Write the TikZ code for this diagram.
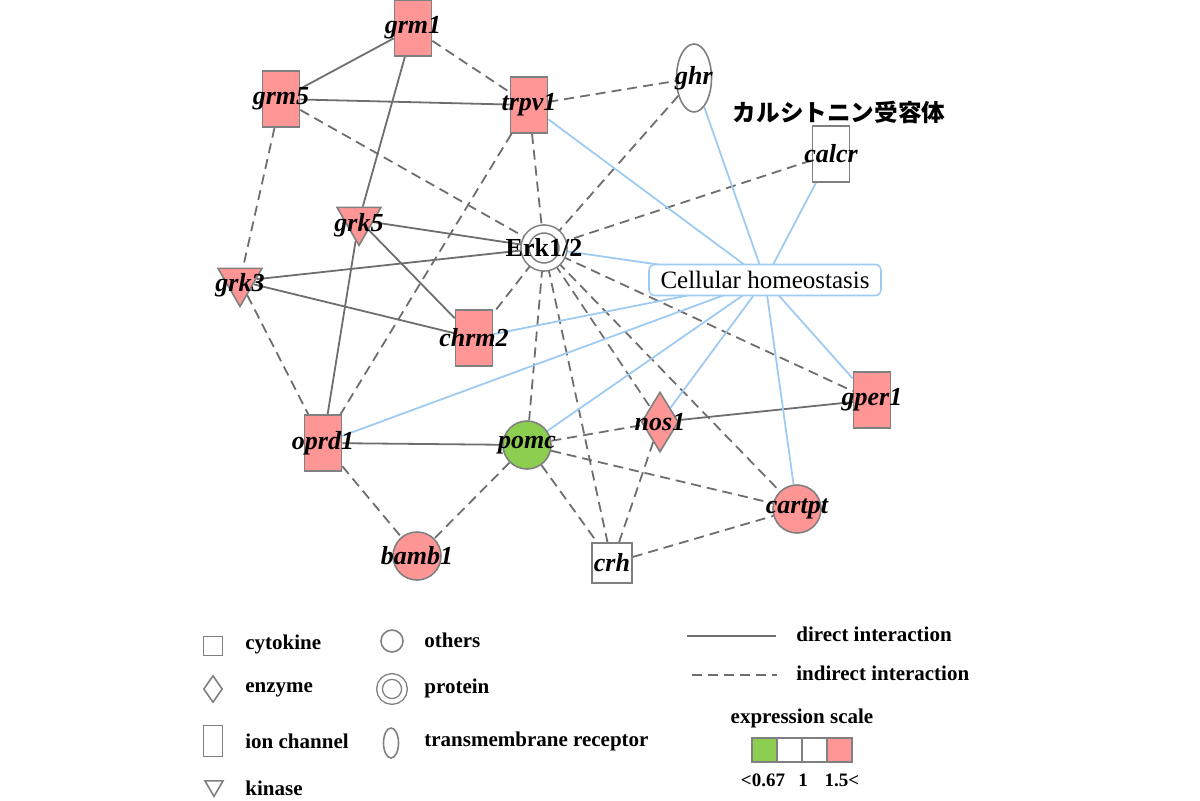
\documentclass[tikz,border=0pt]{standalone}
\usepackage{fontspec}
\setmainfont{Liberation Serif}
\newfontfamily\jpfont{Noto Sans CJK JP}
\usetikzlibrary{shapes.geometric,backgrounds}
\definecolor{up}{HTML}{FF9696}
\definecolor{down}{HTML}{8CCF50}
\definecolor{rim}{HTML}{808080}
\definecolor{link}{HTML}{6E6E6E}
\definecolor{sky}{HTML}{9FCBF3}
\tikzset{
  gene/.style={draw=rim,line width=.8pt,inner sep=0pt,fill=up},
  ionch/.style={gene,rectangle,minimum width=18.5pt,minimum height=28pt},
  cyto/.style={gene,rectangle,minimum size=20pt},
  kin/.style={gene,regular polygon,regular polygon sides=3,shape border rotate=180,minimum size=25.4pt},
  enz/.style={gene,diamond,minimum width=18.5pt,minimum height=30pt},
  oth/.style={gene,circle,minimum size=24pt},
  rec/.style={gene,ellipse,minimum width=17.5pt,minimum height=34pt},
  prot/.style={gene,circle,fill=white,double=white,double distance=3.2pt,minimum size=19pt},
  gtxt/.style={font=\fontsize{13}{13}\selectfont\bfseries\itshape,inner sep=0pt},
  func/.style={draw=sky,line width=.8pt,rounded corners=3pt,fill=white,minimum width=116pt,minimum height=15.5pt,inner sep=0pt,font=\fontsize{12.5}{13}\selectfont},
  lgd/.style={font=\fontsize{10.5}{12}\selectfont\bfseries,inner sep=0pt,anchor=west},
  dline/.style={draw=link,line width=.9pt},
  iline/.style={dline,dash pattern=on 5pt off 3pt},
  bline/.style={draw=sky,line width=.9pt},
}
\begin{document}
\begin{tikzpicture}[x=.5pt,y=-.5pt]
  \useasboundingbox (0,0) rectangle (1200,800);
  % genes
  \node[ionch,label={[gtxt]center:grm1}] (grm1) at (413,28) {};
  \node[ionch,label={[gtxt]center:grm5}] (grm5) at (281,99) {};
  \node[ionch,label={[gtxt]center:trpv1}] (trpv1) at (529,105) {};
  \node[rec,fill=white,label={[gtxt]center:ghr}] (ghr) at (694,78) {};
  \node[ionch,fill=white,label={[gtxt]center:calcr}] (calcr) at (831,154) {};
  \node[font=\jpfont\bfseries\fontsize{11.8}{12}\selectfont,inner sep=0pt] (jp) at (839,112) {カルシトニン受容体};
  \node[prot,label={[font=\fontsize{13}{13}\selectfont\bfseries,inner sep=0pt]center:Erk1/2}] (erk) at (544,248) {};
  \node[func] (ch) at (765,280) {Cellular homeostasis};
  \node[kin,label={[gtxt,yshift=-2.5pt]center:grk5}] (grk5) at (359,220) {};
  \node[kin,label={[gtxt,yshift=-2pt]center:grk3}] (grk3) at (240,281) {};
  \node[ionch,label={[gtxt]center:chrm2}] (chrm2) at (474,338) {};
  \node[ionch,label={[gtxt]center:oprd1}] (oprd1) at (323,443) {};
  \node[oth,fill=down,label={[gtxt]center:pomc}] (pomc) at (527,445) {};
  \node[enz,label={[gtxt]center:nos1}] (nos1) at (660,422) {};
  \node[ionch,label={[gtxt]center:gper1}] (gper1) at (872,400) {};
  \node[oth,label={[gtxt]center:cartpt}] (cartpt) at (797,509) {};
  \node[oth,label={[gtxt]center:bamb1}] (bamb1) at (417,556) {};
  \node[cyto,fill=white,label={[gtxt]center:crh}] (crh) at (612,563) {};
  % interactions
  \begin{scope}[on background layer]
    \foreach \a/\b in {grm5/grm1,grm5/trpv1,grm1/grk5,grk5/oprd1,grk5/erk,grk5/chrm2,grk3/erk,grk3/chrm2,oprd1/pomc,nos1/gper1}
      \draw[dline] (\a) -- (\b);
    \foreach \a/\b in {grm1/trpv1,trpv1/ghr,grm5/erk,grm5/grk3,trpv1/erk,trpv1/oprd1,ghr/erk,calcr/erk,grk3/oprd1,erk/chrm2,erk/pomc,erk/crh,erk/nos1,erk/cartpt,erk/gper1,pomc/nos1,pomc/cartpt,pomc/crh,pomc/bamb1,oprd1/bamb1,nos1/crh,crh/cartpt}
      \draw[iline] (\a) -- (\b);
    \foreach \a in {trpv1,ghr,calcr,erk,chrm2,oprd1,pomc,nos1,cartpt,gper1}
      \draw[bline] (\a) -- (ch.center);
  \end{scope}
  % legend: shapes
  \node[cyto,fill=white,minimum size=9.5pt] (lc) at (213,646) {};
  \node[lgd] (lct) at (245,644) {cytokine};
  \node[enz,fill=white,minimum width=9.5pt,minimum height=13.5pt] (le) at (213,689) {};
  \node[lgd] (let) at (245,690) {enzyme};
  \node[ionch,fill=white,minimum width=9.5pt,minimum height=15.5pt] (li) at (213,741) {};
  \node[lgd] (lit) at (245,741) {ion channel};
  \node[kin,fill=white,minimum size=10.4pt] (lk) at (214,786) {};
  \node[lgd] (lkt) at (245,788) {kinase};
  \node[oth,fill=white,minimum size=11pt] (lo) at (392,641) {};
  \node[lgd] (lot) at (424,640) {others};
  \node[prot,minimum size=12.5pt,line width=.7pt,double distance=2.1pt] (lp) at (392,689) {};
  \node[lgd] (lpt) at (424,688) {protein};
  \node[rec,fill=white,minimum width=7.5pt,minimum height=15pt] (lr) at (391,743) {};
  \node[lgd] (lrt) at (424,741) {transmembrane receptor};
  % legend: lines
  \coordinate (d0) at (687,636); \coordinate (d1) at (776,636);
  \draw[dline] (d0) -- (d1);
  \node[lgd] (ldt) at (796,634) {direct interaction};
  \coordinate (i0) at (692,675); \coordinate (i1) at (777,675);
  \draw[iline] (i0) -- (i1);
  \node[lgd] (lit2) at (796,673) {indirect interaction};
  % expression scale
  \node[lgd,anchor=center] (xs) at (802,718) {expression scale};
  \foreach \c [count=\i] in {down,white,white,up}
    \node[draw=rim,line width=1.2pt,fill=\c,minimum width=12.5pt,minimum height=12pt,inner sep=0pt] (sc\i) at ({739.5+25*\i},750) {};
  \node[font=\bfseries\fontsize{9.5}{10}\selectfont,inner sep=0pt] (s1) at (763,780) {<0.67};
  \node[font=\bfseries\fontsize{9.5}{10}\selectfont,inner sep=0pt] (s2) at (803,780) {1};
  \node[font=\bfseries\fontsize{9.5}{10}\selectfont,inner sep=0pt] (s3) at (842,780) {1.5<};
\end{tikzpicture}
\end{document}
